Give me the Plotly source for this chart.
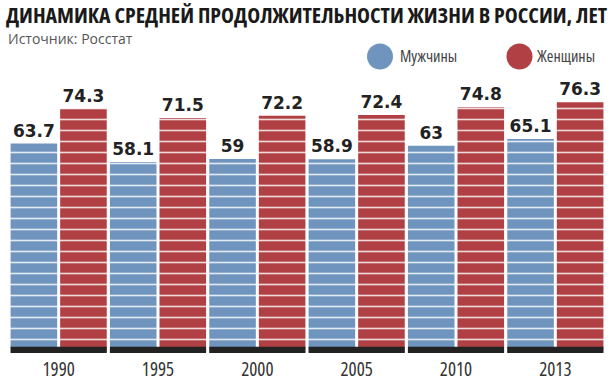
import plotly.graph_objects as go

# ---- data ----
years = ["1990", "1995", "2000", "2005", "2010", "2013"]
men = [63.7, 58.1, 59, 58.9, 63, 65.1]
women = [74.3, 71.5, 72.2, 72.4, 74.8, 76.3]
series_names = ["Мужчины", "Женщины"]

title_text = "ДИНАМИКА СРЕДНЕЙ ПРОДОЛЖИТЕЛЬНОСТИ ЖИЗНИ В РОССИИ, ЛЕТ"
source_text = "Источник: Росстат"

# ---- style ----
W, H = 615, 382
ML, MR, MT, MB = 9, 10, 92, 29
BLUE = "#6f95bf"
RED = "#b04044"
BASE = "#222222"
OPEN = "Open Sans"
YMIN, YMAX = -0.21, 79.43


def stretch(txt, st):
    return f"<span style='font-stretch:{st}'>{txt}</span>"


xs = list(range(len(years)))


def px2paper_x(px):
    return (px - ML) / (W - ML - MR)


def px2paper_y(py):
    return (H - MB - py) / (H - MT - MB)


def bar_trace(name, vals, color):
    return go.Bar(
        x=xs, y=vals, name=name,
        marker=dict(
            color=color, line=dict(width=0),
            pattern=dict(shape="-", bgcolor=color, fgcolor="white",
                         fgopacity=0.8, size=11, solidity=0.15),
        ),
        text=[f"{v:g}" for v in vals],
        textposition="outside",
        textfont=dict(family="DejaVu Sans", size=17, weight="bold", color="#222222"),
        cliponaxis=False,
        showlegend=False,
        hoverinfo="skip",
    )


fig = go.Figure()
fig.add_trace(bar_trace(series_names[0], men, BLUE))
fig.add_trace(bar_trace(series_names[1], women, RED))

# black base strip under each year group
shapes = []
for x in xs:
    shapes.append(dict(type="rect", xref="x", yref="y", x0=x - 0.484, x1=x + 0.484,
                       y0=YMIN, y1=1.7, fillcolor=BASE, line=dict(width=0), layer="above"))

# legend circles
legend_items = [(series_names[0], BLUE, 380, 398), (series_names[1], RED, 519.5, 534)]
annotations = []
for name, col, cx, tx in legend_items:
    shapes.append(dict(type="circle", xref="paper", yref="paper",
                       xsizemode="pixel", ysizemode="pixel",
                       xanchor=px2paper_x(cx), yanchor=px2paper_y(56.5),
                       x0=-13, x1=13, y0=-13, y1=13,
                       fillcolor=col, line=dict(width=0)))
    annotations.append(dict(text=stretch(name, "semi-condensed"), xref="paper", yref="paper",
                            x=px2paper_x(tx), y=px2paper_y(56),
                            xanchor="left", yanchor="middle", showarrow=False,
                            font=dict(family=OPEN, size=16, color="#444444")))

annotations.append(dict(text=source_text, xref="paper", yref="paper",
                        x=px2paper_x(6), y=px2paper_y(27),
                        xanchor="left", yanchor="top", showarrow=False,
                        font=dict(family=OPEN, size=14, color="#555555")))

fig.update_layout(
    template="none",
    width=W, height=H,
    margin=dict(l=ML, r=MR, t=MT, b=MB, pad=0, autoexpand=False),
    paper_bgcolor="white", plot_bgcolor="white",
    barmode="group", bargap=0.002, bargroupgap=0.06,
    title=dict(text=stretch(title_text, "condensed"), xref="container", yref="container",
               x=6 / W, xanchor="left", y=1 - 8 / H, yanchor="top",
               font=dict(family=OPEN, size=21.9, weight="bold", color="#1a1a1a")),
    xaxis=dict(tickvals=xs, ticktext=[stretch(y, "semi-condensed") for y in years],
               range=[-0.5, len(years) - 0.5], automargin=False,
               showgrid=False, zeroline=False, showline=False, ticks="",
               ticklabelstandoff=3,
               tickfont=dict(family=OPEN, size=19, color="#333333")),
    yaxis=dict(range=[YMIN, YMAX], visible=False, showgrid=False, zeroline=False,
               automargin=False),
    shapes=shapes,
    annotations=annotations,
)

fig.write_html("out.html", config={"displayModeBar": False},
               post_script="document.body.style.margin='0';")
